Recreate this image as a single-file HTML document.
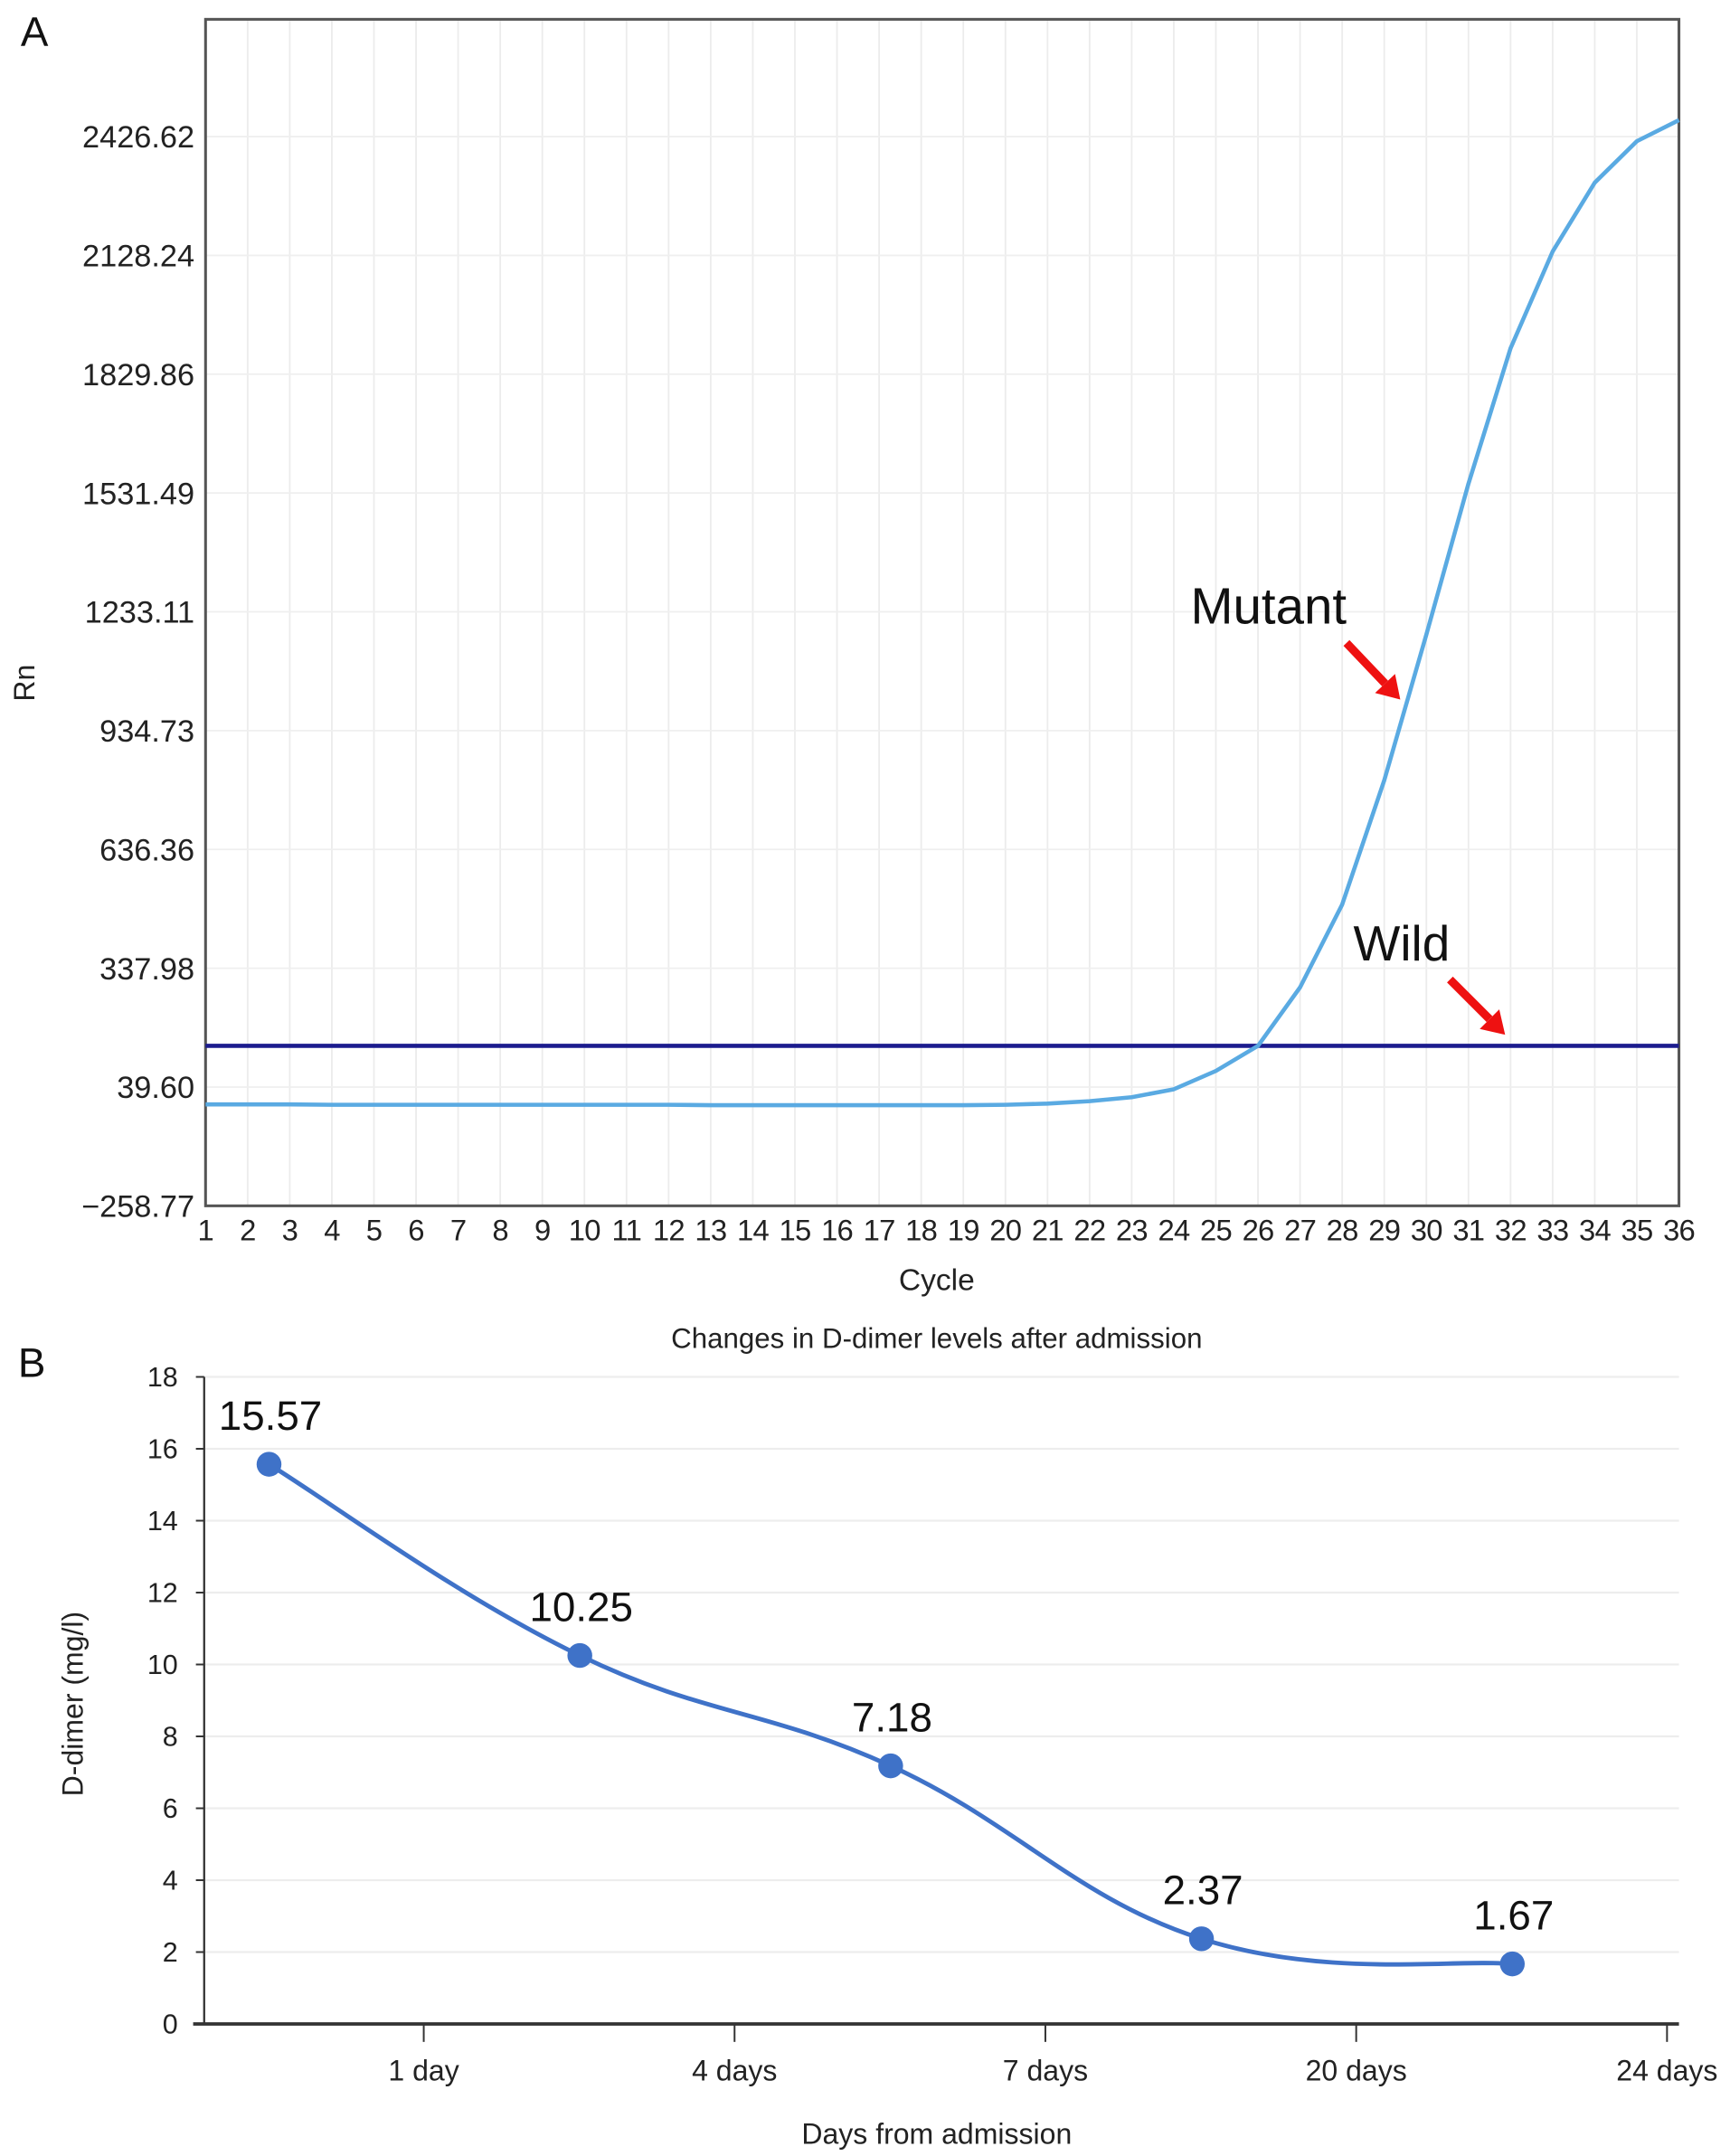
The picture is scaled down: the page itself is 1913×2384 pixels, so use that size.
<!DOCTYPE html>
<html><head><meta charset="utf-8"><style>
html,body{margin:0;padding:0;background:#fff}
svg{display:block;font-family:"Liberation Sans",Arial,sans-serif}
</style></head><body>
<svg id="fig" width="1913" height="2384" viewBox="0 0 1254 1562.7" preserveAspectRatio="none" xmlns="http://www.w3.org/2000/svg">
<g id="panelA"></g>
<g id="panelB"></g>
</svg>
<script>
// ---- Panel A data ----
const cycles = [1,2,3,4,5,6,7,8,9,10,11,12,13,14,15,16,17,18,19,20,21,22,23,24,25,26,27,28,29,30,31,32,33,34,35,36];
const mutantRn = [-4,-4,-4,-5,-5,-5,-5,-5,-5,-5,-5,-5,-6,-6,-6,-6,-6,-6,-6,-5,-2,4,14,34,80,143,290,498,810,1176,1555,1895,2138,2311,2415,2468];
const wildThreshold = [143];
const yTickValues = [-258.77,39.60,337.98,636.36,934.73,1233.11,1531.49,1829.86,2128.24,2426.62];
const yTickLabels = ["\u2212258.77","39.60","337.98","636.36","934.73","1233.11","1531.49","1829.86","2128.24","2426.62"];
// ---- Panel B data ----
const bCategories = ["1 day","4 days","7 days","20 days","24 days"];
const dDimer = [15.57,10.25,7.18,2.37,1.67];
const dLabels = ["15.57","10.25","7.18","2.37","1.67"];
const bYTicks = [0,2,4,6,8,10,12,14,16,18];

const NS="http://www.w3.org/2000/svg";
function mk(parent,tag,attrs,text){const e=document.createElementNS(NS,tag);for(const k in attrs)e.setAttribute(k,attrs[k]);if(text!==undefined)e.textContent=text;parent.appendChild(e);return e;}
function smooth(pts,tension){
  let d='M'+pts[0][0].toFixed(2)+','+pts[0][1].toFixed(2);
  for(let i=0;i<pts.length-1;i++){
    const p0=pts[Math.max(0,i-1)],p1=pts[i],p2=pts[i+1],p3=pts[Math.min(pts.length-1,i+2)];
    const k=tension/3;
    const c1=[p1[0]+(p2[0]-p0[0])*k,p1[1]+(p2[1]-p0[1])*k];
    const c2=[p2[0]-(p3[0]-p1[0])*k,p2[1]-(p3[1]-p1[1])*k];
    d+=` C${c1[0].toFixed(2)},${c1[1].toFixed(2)} ${c2[0].toFixed(2)},${c2[1].toFixed(2)} ${p2[0].toFixed(2)},${p2[1].toFixed(2)}`;
  }
  return d;
}

// ===== Panel A =====
const A=document.getElementById('panelA');
const aL=149,aR=1217,aT=14,aB=874;
const ax=c=>aL+(c-1)*(aR-aL)/35;
const ay=v=>aB-(v+258.77)*(aB-99)/(2426.62+258.77);
let t;
t=mk(A,'text',{x:15,y:33,'font-size':30,fill:'#111'},'A');


cycles.forEach(c=>{
  const l=mk(A,'line',{x1:ax(c),x2:ax(c),y1:aT,y2:aB,stroke:'#ececec','stroke-width':1.2});
  
  
  const tx=mk(A,'text',{x:ax(c),y:899,'font-size':21.5,fill:'#222','text-anchor':'middle','letter-spacing':'-0.5'},String(c));
  
  
});
yTickValues.forEach((v,i)=>{
  const l=mk(A,'line',{x1:aL,x2:aR,y1:ay(v),y2:ay(v),stroke:'#efefef','stroke-width':1.2});
  
  
  const tx=mk(A,'text',{x:141,y:ay(v)+8,'font-size':22.5,fill:'#222','text-anchor':'end'},yTickLabels[i]);
  
  
});
const frame=mk(A,'rect',{x:aL,y:aT,width:aR-aL,height:aB-aT,fill:'none',stroke:'#555','stroke-width':2});


const wl=mk(A,'line',{x1:aL,x2:aR,y1:ay(wildThreshold[0]),y2:ay(wildThreshold[0]),stroke:'#1c1c8e','stroke-width':3});


const dA=cycles.map((c,i)=>(i?'L':'M')+ax(c).toFixed(2)+','+ay(mutantRn[i]).toFixed(2)).join(' ');
const ml=mk(A,'path',{d:dA,fill:'none',stroke:'#5aaae2','stroke-width':3,'stroke-linejoin':'round'});


t=mk(A,'text',{x:863,y:452,'font-size':37,fill:'#111'},'Mutant');


t=mk(A,'text',{x:981,y:696,'font-size':36,fill:'#111'},'Wild');


function arrow(x1,y1,x2,y2,name){
  const g=mk(A,'g',{});
  
  
  const ang=Math.atan2(y2-y1,x2-x1),hl=16,hw=10;
  const bx=x2-hl*Math.cos(ang),by=y2-hl*Math.sin(ang);
  mk(g,'line',{x1:x1,y1:y1,x2:bx,y2:by,stroke:'#ee1111','stroke-width':6});
  const px=-Math.sin(ang)*hw,py=Math.cos(ang)*hw;
  mk(g,'polygon',{points:`${x2},${y2} ${bx+px},${by+py} ${bx-px},${by-py}`,fill:'#ee1111'});
}
arrow(976,466,1015,507,'mutant-arrow');
arrow(1051,710,1091,750,'wild-arrow');
t=mk(A,'text',{x:0,y:0,'font-size':21,fill:'#222','text-anchor':'middle',transform:'translate(25,495) rotate(-90)'},'Rn');


t=mk(A,'text',{x:679,y:935,'font-size':22,fill:'#222','text-anchor':'middle'},'Cycle');



// ===== Panel B =====
const B=document.getElementById('panelB');
const bL=148,bR=1217,bT=998,bB=1467;
const by=v=>bB-v*(bB-bT)/18;
const step=225.3,x0=195;
const bx=i=>x0+i*step;
t=mk(B,'text',{x:13,y:998,'font-size':30,fill:'#111'},'B');


t=mk(B,'text',{x:679,y:977,'font-size':20.5,fill:'#222','text-anchor':'middle'},'Changes in D-dimer levels after admission');


bYTicks.forEach(v=>{
  if(v>0){const g=mk(B,'line',{x1:bL,x2:bR,y1:by(v),y2:by(v),stroke:'#ededed','stroke-width':1.5});
  
  }
  const tk=mk(B,'line',{x1:bL-6,x2:bL,y1:by(v),y2:by(v),stroke:'#333','stroke-width':1.3});
  
  
  const tx=mk(B,'text',{x:bL-19,y:by(v)+7,'font-size':20,fill:'#222','text-anchor':'end'},String(v));
  
  
});
let a=mk(B,'line',{x1:bL,x2:bL,y1:bT,y2:bB,stroke:'#333','stroke-width':1.5});


a=mk(B,'line',{x1:140,x2:bR,y1:bB,y2:bB,stroke:'#333','stroke-width':2.5});


bCategories.forEach((c,i)=>{
  const xx=bx(i+0.5)-0.5;
  const tk=mk(B,'line',{x1:xx,x2:xx,y1:bB,y2:bB+13,stroke:'#333','stroke-width':1.3});
  
  
  const tx=mk(B,'text',{x:xx,y:1508,'font-size':21,fill:'#222','text-anchor':'middle'},c);
  
  
});
const pts=dDimer.map((v,i)=>[bx(i),by(v)]);
const ln=mk(B,'path',{d:smooth(pts,0.6),fill:'none',stroke:'#3f72c8','stroke-width':3.2});


dDimer.forEach((v,i)=>{
  const c=mk(B,'circle',{cx:bx(i),cy:by(v),r:9,fill:'#3f72c8'});
  
  
  const tx=mk(B,'text',{x:bx(i)+1,y:by(v)-25,'font-size':30,fill:'#111','text-anchor':'middle'},dLabels[i]);
  
  
});
t=mk(B,'text',{x:0,y:0,'font-size':21,fill:'#222','text-anchor':'middle',transform:'translate(60,1235) rotate(-90)'},'D-dimer (mg/l)');


t=mk(B,'text',{x:679,y:1554,'font-size':21,fill:'#222','text-anchor':'middle'},'Days from admission');


</script>
</body></html>
